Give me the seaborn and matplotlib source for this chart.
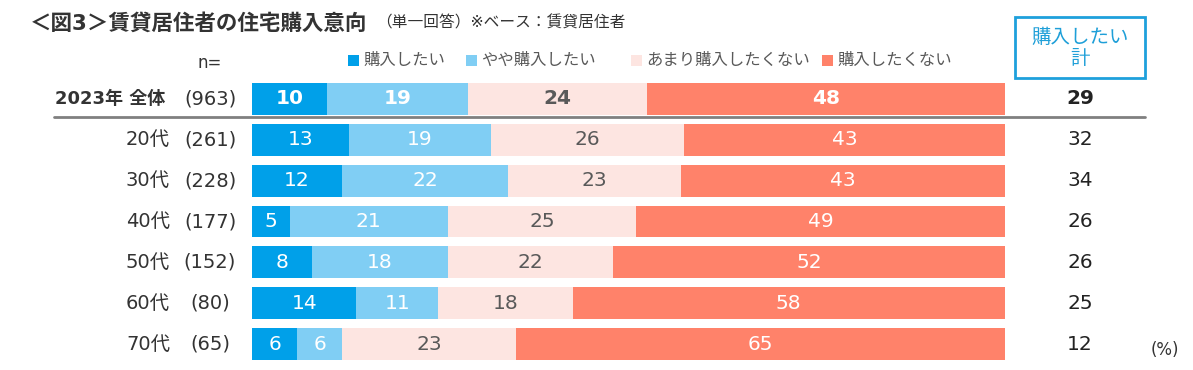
import matplotlib
matplotlib.use("Agg")
import numpy as np
import pandas as pd
import seaborn as sns
import matplotlib.pyplot as plt
from matplotlib.lines import Line2D
from matplotlib.patches import Rectangle
from matplotlib.transforms import blended_transform_factory

# data
groups = ["2023年 全体", "20代", "30代", "40代", "50代", "60代", "70代"]
n_labels = ["(963)", "(261)", "(228)", "(177)", "(152)", "(80)", "(65)"]
want = [10, 13, 12, 5, 8, 14, 6]
rather_want = [19, 19, 22, 21, 18, 11, 6]
rather_not = [24, 26, 23, 25, 22, 18, 23]
not_want = [48, 43, 43, 49, 52, 58, 65]
want_total = [29, 32, 34, 26, 26, 25, 12]
series_names = ["購入したい", "やや購入したい", "あまり購入したくない", "購入したくない"]
colors = ["#00A0E9", "#80CEF4", "#FDE5E1", "#FF826A"]
text_colors = ["white", "white", "#595959", "white"]

W, H = 1193, 370

sns.set_theme(style="white")
plt.rcParams["font.family"] = ["DejaVu Sans", "Noto Sans CJK JP"]

df = pd.DataFrame({"group": groups, "want": want, "rather_want": rather_want,
                   "rather_not": rather_not, "not_want": not_want})
cols = ["want", "rather_want", "rather_not", "not_want"]
vals = df[cols].to_numpy(dtype=float)
# bars in the source all fill the same width, so scale each row to 100
vals = vals / vals.sum(axis=1, keepdims=True) * 100
cum = np.cumsum(vals, axis=1)

fig = plt.figure(figsize=(W / 100, H / 100), dpi=100)
pitch = (344 - 99) / 6
ax = fig.add_axes([252 / W, 1 - (344 + pitch / 2) / H, 753 / W, 7 * pitch / H])

for i in range(3, -1, -1):
    d = pd.DataFrame({"group": groups, "x": cum[:, i]})
    sns.barplot(data=d, x="x", y="group", order=groups, color=colors[i],
                saturation=1, width=0.78, linewidth=0, ax=ax)

ax.set_xlim(0, 100)
ax.set_ylim(6.5, -0.5)
ax.set_axis_off()

for r in range(len(groups)):
    wt = "bold" if r == 0 else "normal"
    for i in range(4):
        c = cum[r, i] - vals[r, i] / 2
        raw = df[cols[i]].iloc[r]
        ax.text(c, r, str(raw), ha="center", va="center", fontsize=14.5,
                color=text_colors[i], fontweight=wt)

tr = blended_transform_factory(fig.transFigure, ax.transData)
for r in range(len(groups)):
    wt = "bold" if r == 0 else "normal"
    ax.text(170 / W if r else 165 / W, r, groups[r], transform=tr, ha="right", va="center",
            fontsize=14 if r else 13, color="#333333", fontweight=wt)
    ax.text(210 / W, r, n_labels[r], transform=tr, ha="center", va="center",
            fontsize=14, color="#333333")
    ax.text(1080 / W, r, str(want_total[r]), transform=tr, ha="center", va="center",
            fontsize=14.5, color="#222222", fontweight=wt)

# separator under the total row
fig.add_artist(Line2D([54 / W, 1145 / W], [1 - 117 / H] * 2, color="#808080", lw=2))

# header box on the right
fig.add_artist(Rectangle((1015 / W, 1 - 78 / H), 130 / W, 61 / H, transform=fig.transFigure,
                         fill=False, edgecolor="#1EA0DC", lw=2))
fig.text(1080 / W, 1 - 48 / H, "購入したい\n計", ha="center", va="center", fontsize=14,
         color="#1E9FD8", linespacing=1.1)

# title
fig.text(30 / W, 1 - 23 / H, "＜図3＞賃貸居住者の住宅購入意向", ha="left", va="center",
         fontsize=15.5, fontweight="bold", color="#333333")
fig.text(376 / W, 1 - 23 / H, "（単一回答）※ベース：賃貸居住者", ha="left", va="center",
         fontsize=11.3, color="#333333")
fig.text(210 / W, 1 - 63 / H, "n=", ha="center", va="center", fontsize=12, color="#333333")
fig.text(1165 / W, 1 - 350 / H, "(%)", ha="center", va="center", fontsize=12, color="#333333")

# legend, placed by hand to match the source spacing
legend_x = [348, 466, 631, 822]
for x0, name, col in zip(legend_x, series_names, colors):
    fig.add_artist(Rectangle((x0 / W, 1 - 66 / H), 11 / W, 11 / H, transform=fig.transFigure,
                             facecolor=col, edgecolor="none"))
    fig.text((x0 + 15) / W, 1 - 60 / H, name, ha="left", va="center", fontsize=11.8,
             color="#595959")

fig.savefig("out.png", dpi=100)
